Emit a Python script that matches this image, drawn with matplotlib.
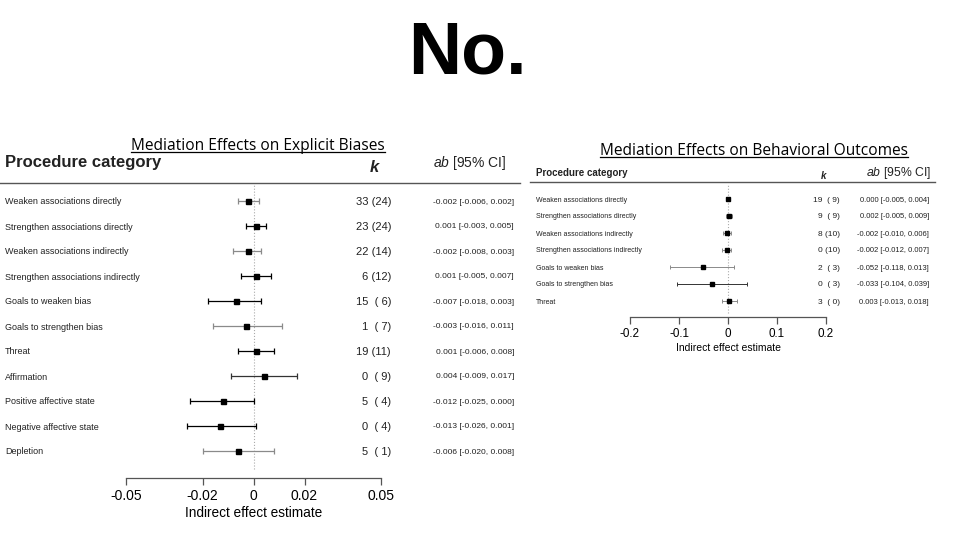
import matplotlib
matplotlib.use("Agg")
import matplotlib.pyplot as plt
from matplotlib.transforms import blended_transform_factory
from matplotlib.lines import Line2D

# ─── Data ─────────────────────────────────────────────────────────────────────

EXPLICIT_LABELS = [
    "Weaken associations directly", "Strengthen associations directly",
    "Weaken associations indirectly", "Strengthen associations indirectly",
    "Goals to weaken bias", "Goals to strengthen bias", "Threat", "Affirmation",
    "Positive affective state", "Negative affective state", "Depletion",
]
EXPLICIT_K = ["33 (24)", "23 (24)", "22 (14)", "6 (12)", "15  ( 6)", "1  ( 7)",
              "19 (11)", "0  ( 9)", "5  ( 4)", "0  ( 4)", "5  ( 1)"]
EXPLICIT_EST = [-0.002, 0.001, -0.002, 0.001, -0.007, -0.003, 0.001, 0.004, -0.012, -0.013, -0.006]
EXPLICIT_LO = [-0.006, -0.003, -0.008, -0.005, -0.018, -0.016, -0.006, -0.009, -0.025, -0.026, -0.020]
EXPLICIT_HI = [0.002, 0.005, 0.003, 0.007, 0.003, 0.011, 0.008, 0.017, 0.000, 0.001, 0.008]

BEHAV_LABELS = [
    "Weaken associations directly", "Strengthen associations directly",
    "Weaken associations indirectly", "Strengthen associations indirectly",
    "Goals to weaken bias", "Goals to strengthen bias", "Threat",
]
BEHAV_K = ["19  ( 9)", "9  ( 9)", "8 (10)", "0 (10)", "2  ( 3)", "0  ( 3)", "3  ( 0)"]
BEHAV_EST = [0.000, 0.002, -0.002, -0.002, -0.052, -0.033, 0.003]
BEHAV_LO = [-0.005, -0.005, -0.010, -0.012, -0.118, -0.104, -0.013]
BEHAV_HI = [0.004, 0.009, 0.006, 0.007, 0.013, 0.039, 0.018]

EXPLICIT_TICKS = [-0.05, -0.02, 0, 0.02, 0.05]
EXPLICIT_TICKLABELS = ["-0.05", "-0.02", "0", "0.02", "0.05"]
BEHAV_TICKS = [-0.2, -0.1, 0, 0.1, 0.2]
BEHAV_TICKLABELS = ["-0.2", "-0.1", "0", "0.1", "0.2"]

# ─── Layout helpers (pixel coordinates of a 960x540 canvas) ───────────────────

W, H = 960, 540


def fx(px):
    return px / W


def fy(py):
    return 1 - py / H


def fmt_ci(e, lo, hi):
    return f"{e:.3f} [{lo:.3f}, {hi:.3f}]"


def forest(fig, p):
    """Draw one forest panel; p holds pixel geometry and font sizes."""
    n = len(p["labels"])
    x0, x1 = p["xlim"]
    left, right = p["ax_px"]
    top, bottom = p["top_px"], p["axis_px"]
    ax = fig.add_axes([fx(left), fy(bottom), fx(right) - fx(left), fy(top) - fy(bottom)])
    ax.set_xlim(x0, x1)
    ylo = (bottom - p["row0"]) / p["dy"]
    yhi = (top - p["row0"]) / p["dy"]
    ax.set_ylim(ylo, yhi)
    ax.patch.set_alpha(0)
    for s in ["top", "left", "right"]:
        ax.spines[s].set_visible(False)
    ax.spines["bottom"].set_color("#555555")
    ax.spines["bottom"].set_linewidth(0.9)
    ax.set_yticks([])
    ax.set_xticks(p["ticks"])
    ax.set_xticklabels(p["ticklabels"], fontsize=p["tick_fs"], family="Liberation Sans")
    ax.tick_params(axis="x", length=5, width=0.9, color="#555555", pad=3)
    ax.set_xlabel("Indirect effect estimate", fontsize=p["xlabel_fs"],
                  family="Liberation Sans", labelpad=2)

    ax.axvline(0, ymin=0.03, ymax=1, color="#aaaaaa", linestyle=":", linewidth=0.8)

    for i in range(n):
        col = p["colors"][i]
        e, lo, hi = p["est"][i], p["lo"][i], p["hi"][i]
        ax.errorbar([e], [i], xerr=[[e - lo], [hi - e]], fmt="s", color="black",
                    ecolor=col, elinewidth=p["elw"], capsize=p["cap"], capthick=p["elw"],
                    markersize=p["ms"], clip_on=False)

    tr = blended_transform_factory(fig.transFigure, ax.transData)
    for i in range(n):
        ax.text(fx(p["label_x"]), i, p["labels"][i], transform=tr, ha="left",
                va="center_baseline", fontsize=p["label_fs"], family="Liberation Sans",
                color="#222222")
        ax.text(fx(p["k_x"]), i, p["k"][i], transform=tr, ha="right", va="center_baseline",
                fontsize=p["k_fs"], family="Liberation Sans", color="#222222")
        ax.text(fx(p["ci_x"]), i, fmt_ci(p["est"][i], p["lo"][i], p["hi"][i]), transform=tr,
                ha="right", va="center_baseline", fontsize=p["ci_fs"],
                family="Liberation Sans", color="#222222")

    # header
    hy = p["head_y"]
    fig.text(fx(p["label_x"]), fy(hy), "Procedure category", ha="left", va="center",
             fontsize=p["head_fs"], fontweight="bold", family="Liberation Sans", color="#222222")
    fig.text(fx(p["khead_x"]), fy(hy + p["k_off"]), "k", ha="center", va="center",
             fontsize=p["head_fs"], fontweight="bold", style="italic",
             family="Liberation Sans", color="#222222")
    fig.text(fx(p["cihead_x"]), fy(hy), r"$\it{ab}$ [95% CI]", ha="center", va="center",
             fontsize=p["cihead_fs"], family="Liberation Sans", color="#222222")
    fig.add_artist(Line2D([fx(p["line"][0]), fx(p["line"][1])], [fy(p["line_y"])] * 2,
                          color="#555555", linewidth=1.0))

    # title (underlined afterwards)
    t = fig.text(fx(p["title_x"]), fy(p["title_y"]), p["title"], ha="center", va="center",
                 fontsize=p["title_fs"], family="Open Sans", color="black")
    return t


plt.rcParams["mathtext.fontset"] = "custom"
plt.rcParams["mathtext.it"] = "Liberation Sans:italic"

fig = plt.figure(figsize=(9.6, 5.4), dpi=100, facecolor="white")

fig.text(fx(467), fy(54), "No.", ha="center", va="center", fontsize=53,
         fontweight="bold", family="Liberation Sans", color="black")

left_panel = dict(
    labels=EXPLICIT_LABELS, k=EXPLICIT_K, est=EXPLICIT_EST, lo=EXPLICIT_LO, hi=EXPLICIT_HI,
    xlim=(-0.05, 0.05), ax_px=(126, 381), top_px=185, axis_px=478, row0=201, dy=25,
    ticks=EXPLICIT_TICKS, ticklabels=EXPLICIT_TICKLABELS, tick_fs=10, xlabel_fs=9.8,
    colors=["#8a8a8a", "black", "#8a8a8a", "black", "black", "#8a8a8a", "black",
            "#333333", "black", "black", "#8a8a8a"],
    elw=0.9, cap=2, ms=3.6,
    label_x=5, label_fs=6.5, k_x=391, k_fs=8, ci_x=514, ci_fs=6,
    head_y=163, head_fs=12, khead_x=374, k_off=4, cihead_x=470, cihead_fs=10,
    line=(0, 520), line_y=183,
    title="Mediation Effects on Explicit Biases", title_x=258, title_y=146, title_fs=11.2,
)
right_panel = dict(
    labels=BEHAV_LABELS, k=BEHAV_K, est=BEHAV_EST, lo=BEHAV_LO, hi=BEHAV_HI,
    xlim=(-0.2, 0.2), ax_px=(630, 826), top_px=184, axis_px=317, row0=199, dy=17,
    ticks=BEHAV_TICKS, ticklabels=BEHAV_TICKLABELS, tick_fs=8.4, xlabel_fs=7.5,
    colors=["#8a8a8a", "#8a8a8a", "#8a8a8a", "#8a8a8a", "#8a8a8a", "#333333", "#8a8a8a"],
    elw=0.7, cap=1.6, ms=2.8,
    label_x=536, label_fs=5, k_x=840, k_fs=6, ci_x=929, ci_fs=5.5,
    head_y=173, head_fs=7, khead_x=824, k_off=3, cihead_x=899, cihead_fs=8.8,
    line=(530, 935), line_y=182,
    title="Mediation Effects on Behavioral Outcomes", title_x=754, title_y=151, title_fs=11.2,
)

titles = [forest(fig, left_panel), forest(fig, right_panel)]

# underline the panel titles
fig.canvas.draw()
renderer = fig.canvas.get_renderer()
for t in titles:
    bb = t.get_window_extent(renderer).transformed(fig.transFigure.inverted())
    yline = bb.y0 + 0.12 * (bb.y1 - bb.y0)
    fig.add_artist(Line2D([bb.x0, bb.x1], [yline, yline], color="black", linewidth=0.9))

fig.savefig("out.png", dpi=100, facecolor="white")
